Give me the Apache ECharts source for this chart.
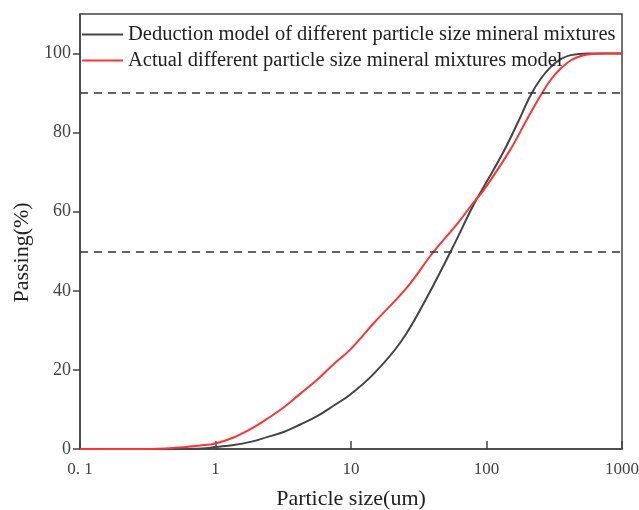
<!DOCTYPE html>
<html><head><meta charset="utf-8">
<script src="https://cdn.jsdelivr.net/npm/echarts@6/dist/echarts.min.js"></script>
<style>html,body{margin:0;padding:0;background:#fff}#c{width:639px;height:510px}</style>
</head><body><div id="c"></div>
<script>
const seriesNames = ['Deduction model of different particle size mineral mixtures', 'Actual different particle size mineral mixtures model'];
const deductionX = [0.1, 0.5, 0.8, 1.0, 1.36, 1.81, 2.4, 3.18, 4.23, 5.62, 7.47, 9.9, 14.7, 23.2, 34.6, 54.5, 81, 100, 135, 170, 212, 250, 296, 350, 418, 560, 1000];
const deductionY = [0, 0, 0.1, 0.5, 1.0, 1.8, 3.0, 4.3, 6.2, 8.3, 11.0, 13.8, 19.0, 27.0, 37.0, 50, 62, 67.5, 75.5, 82.5, 89.5, 93.5, 96.5, 98.5, 99.6, 100, 100];
const actualX = [0.1, 0.3, 0.5, 0.77, 1.0, 1.36, 1.81, 2.4, 3.18, 4.23, 5.62, 7.47, 9.9, 14.7, 26.1, 39.9, 61, 81, 96, 150, 200, 252, 300, 353, 420, 497, 600, 737, 1000];
const actualY = [0, 0, 0.3, 0.9, 1.4, 2.9, 5.0, 7.6, 10.5, 14.0, 17.5, 21.5, 25.2, 31.8, 41.0, 49.5, 57, 62.5, 65.6, 75.7, 83.5, 89.5, 93.5, 96.2, 98.3, 99.4, 99.9, 100, 100];
const refLines = [90, 50];
const yTicks = [0, 20, 40, 60, 80, 100];

const zip = (xs, ys) => xs.map((x, i) => [x, ys[i]]);
const font = 'Liberation Serif';
const chart = echarts.init(document.getElementById('c'));
chart.setOption({
  animation: false,
  grid: {left: 80, right: 17, top: 14, bottom: 61, show: true, borderColor: '#444', borderWidth: 1.5, outerBoundsMode: 'none', containLabel: false},
  legend: {
    orient: 'vertical', left: 77, top: 19, itemWidth: 41, itemHeight: 2, itemGap: 5,
    icon: 'rect',
    textStyle: {fontFamily: font, fontSize: 20.5, color: '#222'},
    data: seriesNames
  },
  xAxis: {
    type: 'log', logBase: 10, min: 0.1, max: 1000,
    name: 'Particle size(um)', nameLocation: 'middle', nameGap: 39,
    nameTextStyle: {fontFamily: font, fontSize: 22, color: '#222'},
    axisLine: {lineStyle: {color: '#444', width: 1.5}},
    axisTick: {inside: true, length: 8, lineStyle: {color: '#444', width: 1.5}},
    minorTick: {show: false},
    splitLine: {show: false},
    axisLabel: {fontFamily: font, fontSize: 17, color: '#444', margin: 12,
      formatter: v => (Math.abs(v - 0.1) < 1e-9 ? '0. 1' : String(Math.round(v)))}
  },
  yAxis: {
    type: 'value', min: 0, max: 110, interval: 20,
    name: 'Passing(%)', nameLocation: 'middle', nameGap: 46,
    nameTextStyle: {fontFamily: font, fontSize: 22, color: '#222', padding: [0, 42, 0, 0]},
    axisLine: {show: true, lineStyle: {color: '#444', width: 1.5}},
    axisTick: {show: true, inside: false, length: 7, customValues: yTicks, lineStyle: {color: '#444', width: 1.5}},
    splitLine: {show: false},
    axisLabel: {fontFamily: font, fontSize: 18, color: '#444', margin: 9, customValues: yTicks}
  },
  series: [
    {
      name: seriesNames[0], type: 'line', data: zip(deductionX, deductionY),
      smooth: 0.4, showSymbol: false, symbol: 'none',
      lineStyle: {color: '#444', width: 2}, itemStyle: {color: '#444'},
      markLine: {
        silent: true, symbol: 'none', label: {show: false},
        lineStyle: {color: '#333', width: 1.5, type: [8, 6]},
        data: refLines.map(v => ({yAxis: v}))
      }
    },
    {
      name: seriesNames[1], type: 'line', data: zip(actualX, actualY),
      smooth: 0.4, showSymbol: false, symbol: 'none',
      lineStyle: {color: '#ff3333', width: 2}, itemStyle: {color: '#ff3333'}
    }
  ]
});
</script></body></html>
